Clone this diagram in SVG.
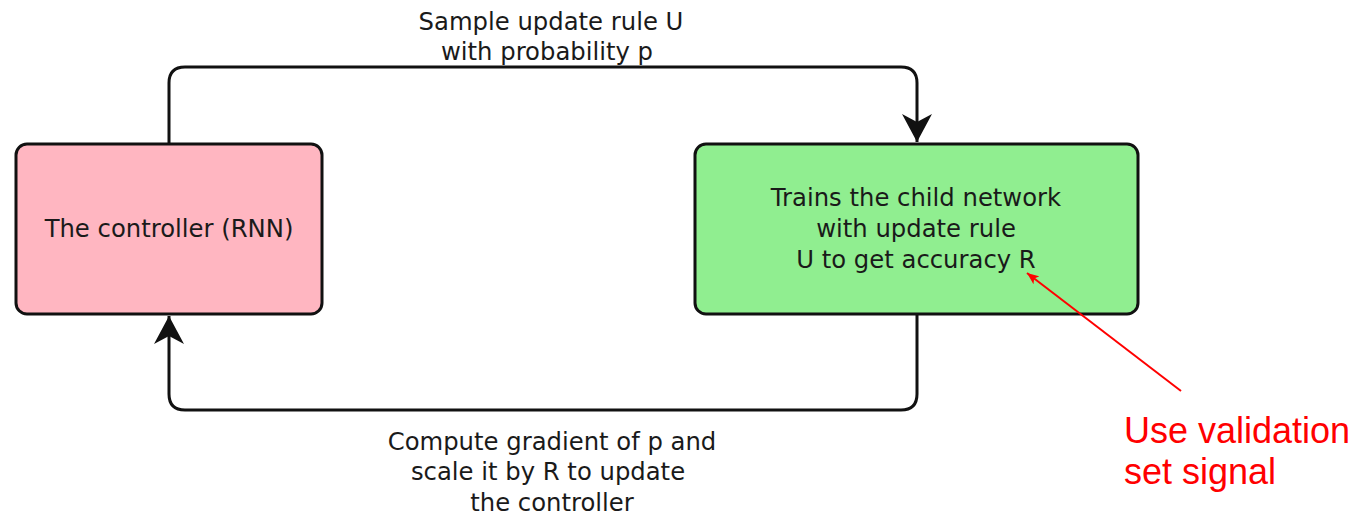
<svg xmlns="http://www.w3.org/2000/svg" width="1361" height="527" viewBox="0 0 1361 527">
<style>
.box{stroke:#111;stroke-width:3}
.t{font-family:"DejaVu Sans",sans-serif;font-size:24.3px;fill:#1a1a1a;text-anchor:middle}
.conn{fill:none;stroke:#111;stroke-width:3}
.red{font-family:"Liberation Sans",Arial,sans-serif;font-size:36px;fill:#ff0000}
</style>
<defs>
<marker id="ah" viewBox="0 0 28 30" refX="28" refY="15" markerWidth="28" markerHeight="30" markerUnits="userSpaceOnUse" orient="auto">
<path d="M0,0 L28,15 L0,30 L8,15 Z" fill="#111"/>
</marker>
<marker id="rah" viewBox="0 0 12 10" refX="12" refY="5" markerWidth="12" markerHeight="10" markerUnits="userSpaceOnUse" orient="auto">
<path d="M0,0 L12,5 L0,10 L3,5 Z" fill="#ff0000"/>
</marker>
</defs>
<rect width="1361" height="527" fill="#fff"/>
<g id="connectors">
<path class="conn" d="M169,144 V83 Q169,67 185,67 H901 Q917,67 917,83 V142" marker-end="url(#ah)"/>
<path class="conn" d="M917,314 V394 Q917,410 901,410 H185 Q169,410 169,394 V316" marker-end="url(#ah)"/>
</g>
<g id="controller">
<rect class="box" x="16" y="144" width="306" height="170" rx="11" fill="#ffb6c1"/>
<text class="t" x="169" y="237">The controller (RNN)</text>
</g>
<g id="child">
<rect class="box" x="695" y="144" width="443" height="170" rx="11" fill="#90ee90"/>
<text class="t" x="916" y="206">Trains the child network</text>
<text class="t" x="916" y="237">with update rule</text>
<text class="t" x="916" y="268">U to get accuracy R</text>
</g>
<g id="labels">
<text class="t" x="551" y="30">Sample update rule U</text>
<text class="t" x="547" y="60">with probability p</text>
<text class="t" x="552" y="450">Compute gradient of p and</text>
<text class="t" x="548" y="480">scale it by R to update</text>
<text class="t" x="552" y="511">the controller</text>
</g>
<g id="note">
<line x1="1181" y1="391" x2="1027" y2="273" stroke="#ff0000" stroke-width="2" marker-end="url(#rah)"/>
<text class="red" x="1124" y="443">Use validation</text>
<text class="red" x="1124" y="484">set signal</text>
</g>
</svg>
